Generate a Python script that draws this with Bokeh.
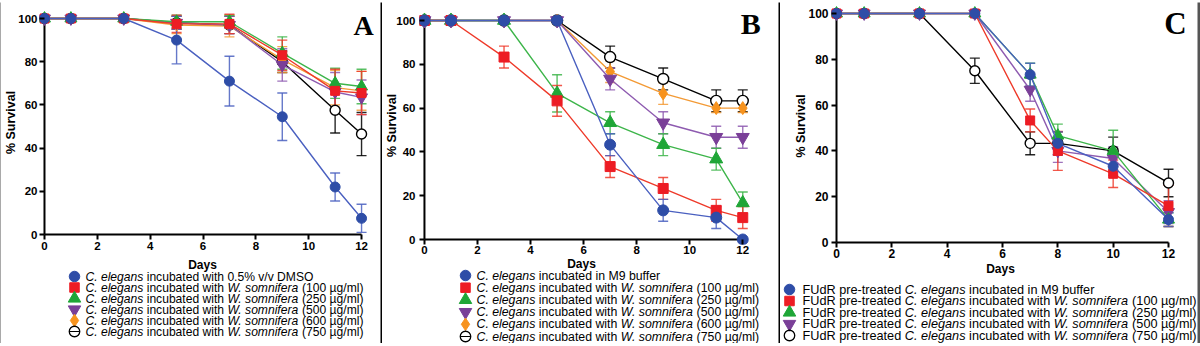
import math
from bokeh.plotting import figure
from bokeh.models import Range1d, FixedTicker, Label, Whisker, ColumnDataSource, TeeHead
from bokeh.layouts import row, column
from bokeh.embed import file_html
from bokeh.resources import INLINE
from bokeh.core.validation import silence
from bokeh.core.validation.warnings import MISSING_RENDERERS

silence(MISSING_RENDERERS, True)

# ---------------- data ----------------
days_ab = [0, 1, 3, 5, 7, 9, 11, 12]
days_c = [0, 1, 3, 5, 7, 8, 10, 12]
x_ticks = [0, 2, 4, 6, 8, 10, 12]
y_ticks = [0, 20, 40, 60, 80, 100]

# Panel A
a_dmso = [100, 100, 100, 90, 71, 54.5, 22, 7.5]
a_dmso_err = [0, 0, 0, 11, 11.5, 11, 6.5, 6.5]
a_ws100 = [100, 100, 100, 97.5, 97.5, 83, 66.5, 65.5]
a_ws100_err = [0, 0, 0, 4, 4.5, 7, 10, 10]
a_ws250 = [100, 100, 100, 98.5, 98.5, 84, 70, 68.5]
a_ws250_err = [0, 0, 0, 3, 3, 7.5, 7, 8]
a_ws500 = [100, 100, 100, 98, 97, 78.5, 66, 63.5]
a_ws500_err = [0, 0, 0, 3, 4, 7.5, 9, 8]
a_ws600 = [100, 100, 100, 97, 96.5, 81, 68, 66.5]
a_ws600_err = [0, 0, 0, 4, 5, 6, 8, 9]
a_ws750 = [100, 100, 100, 98, 97, 80, 57.5, 46.5]
a_ws750_err = [0, 0, 0, 3, 4, 5, 10.5, 10]

# Panel B
b_m9 = [100, 100, 100, 100, 43.3, 13.3, 10, 0]
b_m9_err = [0, 0, 0, 0, 5, 5, 5, 0]
b_ws100 = [100, 100, 83.3, 63.3, 33.3, 23.3, 13.3, 10]
b_ws100_err = [0, 0, 5, 7, 5, 5, 5, 5]
b_ws250 = [100, 100, 100, 66.7, 53.3, 43.3, 36.7, 16.7]
b_ws250_err = [0, 0, 0, 8.5, 5, 5, 5, 5]
b_ws500 = [100, 100, 100, 100, 73.3, 53.3, 46.7, 46.7]
b_ws500_err = [0, 0, 0, 0, 5, 5, 5, 5]
b_ws600 = [100, 100, 100, 100, 76.7, 66.7, 60, 60]
b_ws600_err = [0, 0, 0, 0, 5, 5, 2, 2]
b_ws750 = [100, 100, 100, 100, 83.3, 73.3, 63.3, 63.3]
b_ws750_err = [0, 0, 0, 0, 5, 5, 5, 5]

# Panel C
c_m9 = [100, 100, 100, 100, 73.3, 43.3, 33.3, 10]
c_m9_err = [0, 0, 0, 0, 5, 5, 4, 3]
c_ws100 = [100, 100, 100, 100, 53.3, 40, 30, 16]
c_ws100_err = [0, 0, 0, 0, 5, 8.5, 6, 9]
c_ws250 = [100, 100, 100, 100, 73.3, 46.7, 40, 10]
c_ws250_err = [0, 0, 0, 0, 5, 5, 9, 3]
c_ws500 = [100, 100, 100, 100, 66.7, 40, 36.7, 13.3]
c_ws500_err = [0, 0, 0, 0, 5, 5, 5, 5]
c_ws750 = [100, 100, 100, 75, 43.3, 43.3, 40, 26]
c_ws750_err = [0, 0, 0, 5.5, 5, 5, 6, 6]

legend_a = [
    [("C. elegans", True), (" incubated with 0.5% v/v DMSO", False)],
    [("C. elegans", True), (" incubated with ", False), ("W. somnifera", True), (" (100 µg/ml)", False)],
    [("C. elegans", True), (" incubated with ", False), ("W. somnifera", True), (" (250 µg/ml)", False)],
    [("C. elegans", True), (" incubated with ", False), ("W. somnifera", True), (" (500 µg/ml)", False)],
    [("C. elegans", True), (" incubated with ", False), ("W. somnifera", True), (" (600 µg/ml)", False)],
    [("C. elegans", True), (" incubated with ", False), ("W. somnifera", True), (" (750 µg/ml)", False)],
]
legend_b = [[("C. elegans", True), (" incubated in M9 buffer", False)]] + legend_a[1:]
legend_c = [
    [("FUdR pre-treated ", False), ("C. elegans", True), (" incubated in M9 buffer", False)],
    [("FUdR pre-treated ", False), ("C. elegans", True), (" incubated with ", False), ("W. somnifera", True), (" (100 µg/ml)", False)],
    [("FUdR pre-treated ", False), ("C. elegans", True), (" incubated with ", False), ("W. somnifera", True), (" (250 µg/ml)", False)],
    [("FUdR pre-treated ", False), ("C. elegans", True), (" incubated with ", False), ("W. somnifera", True), (" (500 µg/ml)", False)],
    [("FUdR pre-treated ", False), ("C. elegans", True), (" incubated with ", False), ("W. somnifera", True), (" (750 µg/ml)", False)],
]

# ---------------- styles ----------------
STY = {
    "blue":   dict(color="#2E4DA7", line="#4A60C0", marker="circle", fill="#2E4DA7"),
    "red":    dict(color="#ED1C24", line="#EE3A2A", marker="square", fill="#ED1C24"),
    "green":  dict(color="#1FA637", line="#3DB54A", marker="triangle", fill="#1FA637"),
    "purple": dict(color="#7A3F98", line="#8E5BB0", marker="inverted_triangle", fill="#7A3F98"),
    "orange": dict(color="#F7931E", line="#F39A35", marker="diamond", fill="#F7931E"),
    "black":  dict(color="#000000", line="#000000", marker="circle", fill="#FFFFFF"),
}

CW = {' ': 278, '.': 278, '%': 889, '/': 278, '(': 333, ')': 333, '-': 333,
      'C': 722, 'D': 722, 'M': 833, 'S': 667, 'O': 778, 'W': 944, 'F': 611, 'U': 722, 'R': 722,
      'a': 556, 'b': 556, 'c': 500, 'd': 556, 'e': 556, 'f': 278, 'g': 556, 'h': 556, 'i': 222,
      'l': 222, 'm': 833, 'n': 556, 'o': 556, 'p': 556, 'r': 333, 's': 500, 't': 278, 'u': 556,
      'v': 500, 'w': 722, 'y': 500, 'µ': 556}


def tw(s, size):
    return sum(CW.get(ch, 556) for ch in s) * size / 1000.0


def msize(key, base):
    m = STY[key]["marker"]
    if m in ("triangle", "inverted_triangle", "diamond"):
        return base + 2
    if m == "square":
        return base - 1
    return base


def no_align(f):
    if "frame_align" in f.properties():
        f.frame_align = False


def make_panel(g, series, days, legend, order, letter):
    x0, x12, y100, y0 = g["x0"], g["x12"], g["y100"], g["y0"]
    top_h = g["split"] - g["top"]
    bot_h = g["h"] - top_h

    def cx(X):
        return (X - x0) / (x12 - x0) * 12.0

    def cy(Y):
        return (y0 - Y) / (y0 - y100) * 100.0

    p = figure(width=g["w"], height=top_h, toolbar_location=None, output_backend="svg",
               x_range=Range1d(cx(g["fl"]), cx(g["fr"])),
               y_range=Range1d(cy(g["fb"]), cy(g["ft"])),
               min_border_left=g["fl"] - g["left"], min_border_right=g["left"] + g["w"] - g["fr"],
               min_border_top=g["ft"] - g["top"], min_border_bottom=g["split"] - g["fb"],
               background_fill_color="white", border_fill_color="white", outline_line_color=None)
    no_align(p)
    p.grid.visible = False
    for ax, ticks in ((p.xaxis[0], x_ticks), (p.yaxis[0], y_ticks)):
        ax.ticker = FixedTicker(ticks=ticks)
        ax.minor_tick_line_color = None
        ax.axis_line_color = None
        ax.major_tick_in = 5
        ax.major_tick_out = 0
        ax.major_tick_line_width = 2
        ax.major_tick_line_color = "black"
        ax.major_label_text_font = "Liberation Sans"
        ax.major_label_text_font_style = "bold"
        ax.major_label_text_font_size = g["tick_fs"]
        ax.major_label_text_color = "black"
    p.xaxis.major_label_standoff = g["xso"]
    p.yaxis.major_label_standoff = g["yso"]
    p.yaxis.axis_label = "% Survival"
    p.yaxis.axis_label_text_font = "Liberation Sans"
    p.yaxis.axis_label_text_font_style = "bold"
    p.yaxis.axis_label_text_font_size = "12.5px"
    p.yaxis.axis_label_text_color = "black"
    p.yaxis.axis_label_standoff = g["yls"]

    # axis lines crossing at the origin
    p.segment(x0=[x_ticks[0]], y0=[y_ticks[0]], x1=[x_ticks[-1]], y1=[y_ticks[0]], line_color="black", line_width=2)
    p.segment(x0=[x_ticks[0]], y0=[y_ticks[0]], x1=[x_ticks[0]], y1=[y_ticks[-1]], line_color="black", line_width=2)

    for key, vals, errs in series:
        s = STY[key]
        ex = [d for d, e in zip(days, errs) if e > 0]
        ev = [v for v, e in zip(vals, errs) if e > 0]
        ee = [e for e in errs if e > 0]
        if ex:
            src = ColumnDataSource(dict(x=ex, upper=[v + e for v, e in zip(ev, ee)],
                                        lower=[v - e for v, e in zip(ev, ee)]))
            w = Whisker(source=src, base="x", upper="upper", lower="lower", line_color=s["line"],
                        line_width=1.4, line_alpha=0.85, level="underlay",
                        upper_head=TeeHead(size=10, line_color=s["line"], line_width=1.4, line_alpha=0.85),
                        lower_head=TeeHead(size=10, line_color=s["line"], line_width=1.4, line_alpha=0.85))
            p.add_layout(w)
        p.line(days, vals, line_color=s["line"], line_width=1.4)
        p.scatter(days, vals, marker=s["marker"], size=msize(key, g["msize"]), fill_color=s["fill"],
                  line_color=s["color"], line_width=1.4 if key == "black" else 1)

    p.add_layout(Label(x=cx(g["letter"][0]), y=cy(g["letter"][1]), text=letter, text_font="Liberation Serif",
                       text_font_style="bold", text_font_size=f"{g['letter_fs']}px", text_color="black",
                       text_align="center", text_baseline="middle"))

    # ---- lower figure: axis title + legend (pixel coordinates, y downwards) ----
    q = figure(width=g["w"], height=bot_h, toolbar_location=None, output_backend="svg",
               x_range=Range1d(g["left"], g["left"] + g["w"]),
               y_range=Range1d(g["split"] + bot_h, g["split"]),
               min_border=0, background_fill_color="white", border_fill_color="white",
               outline_line_color=None)
    no_align(q)
    q.xaxis.visible = False
    q.yaxis.visible = False
    q.grid.visible = False

    def lab(X, Y, text, size, style="normal", align="left"):
        q.add_layout(Label(x=X, y=Y, text=text, text_font="Liberation Sans", text_font_size=f"{size}px",
                           text_font_style=style, text_color="black", text_align=align,
                           text_baseline="middle"))

    lab(g["xlab"][0], g["xlab"][1], "Days", 12, style="bold", align="center")

    fs = g["leg_fs"]
    for i, (segs, key) in enumerate(zip(legend, order)):
        Y = g["leg_y0"] + i * g["leg_dy"]
        s = STY[key]
        if key == "black" and not g.get("open_plain"):
            q.segment(x0=[g["leg_mx"] - 5.5], y0=[Y], x1=[g["leg_mx"] + 5.5], y1=[Y], line_color="black", line_width=1.2)
        q.scatter([g["leg_mx"]], [Y], marker=s["marker"], size=msize(key, 10.5), fill_color=None if key == "black" else s["fill"],
                  line_color=s["color"], line_width=1.3 if key == "black" else 1)
        X = g["leg_tx"]
        for text, ital in segs:
            lead = len(text) - len(text.lstrip(" "))
            core = text.strip(" ")
            if core:
                lab(X + lead * 278 * fs / 1000.0, Y, core, fs, style="italic" if ital else "normal")
            X += tw(text, fs)
    return column(p, q)


series_a = [("black", a_ws750, a_ws750_err), ("orange", a_ws600, a_ws600_err), ("purple", a_ws500, a_ws500_err),
            ("green", a_ws250, a_ws250_err), ("red", a_ws100, a_ws100_err), ("blue", a_dmso, a_dmso_err)]
series_b = [("black", b_ws750, b_ws750_err), ("orange", b_ws600, b_ws600_err), ("purple", b_ws500, b_ws500_err),
            ("green", b_ws250, b_ws250_err), ("red", b_ws100, b_ws100_err), ("blue", b_m9, b_m9_err)]
series_c = [("black", c_ws750, c_ws750_err), ("purple", c_ws500, c_ws500_err),
            ("green", c_ws250, c_ws250_err), ("red", c_ws100, c_ws100_err), ("blue", c_m9, c_m9_err)]

order_ab = ["blue", "red", "green", "purple", "orange", "black"]
order_c = ["blue", "red", "green", "purple", "black"]

gA = dict(left=1, top=2, w=379, h=341, split=256, fl=38, fr=377, ft=5, fb=239, x0=43, x12=361, y100=18, y0=234,
          tick_fs="11.5px", xso=2, yso=2, yls=-3, msize=10, xlab=(202, 264),
          letter=(363, 25), letter_fs=28, leg_y0=276, leg_dy=11, leg_mx=74, leg_tx=85, leg_fs=12.1)
gB = dict(left=382, top=2, w=396, h=341, split=258, fl=416, fr=772, ft=6, fb=244, x0=421, x12=742, y100=20, y0=239,
          tick_fs="11.5px", xso=1, yso=4, yls=-6, msize=11, xlab=(581, 263.5),
          letter=(750, 23), letter_fs=30, leg_y0=275, leg_dy=12.2, leg_mx=465, leg_tx=476, leg_fs=12.3)
gC = dict(left=780, top=2, w=417, h=341, split=262, fl=831, fr=1193, ft=4, fb=247, x0=836, x12=1168, y100=13, y0=242,
          tick_fs="12px", xso=1, yso=3, yls=-3, msize=10, xlab=(1000, 268),
          letter=(1175, 23), letter_fs=31, leg_y0=289, leg_dy=11.5, leg_mx=789, leg_tx=802, leg_fs=12.7,
          open_plain=True)

pA = make_panel(gA, series_a, days_ab, legend_a, order_ab, "A")
pB = make_panel(gB, series_b, days_ab, legend_b, order_ab, "B")
pC = make_panel(gC, series_c, days_c, legend_c, order_c, "C")


def strip(w, h, color):
    f = figure(width=w, height=h, toolbar_location=None, output_backend="svg", min_border=0,
               background_fill_color=color, border_fill_color=color, outline_line_color=None)
    no_align(f)
    f.xaxis.visible = False
    f.yaxis.visible = False
    f.grid.visible = False
    return f


layout = column(
    strip(1200, 2, "#444444"),
    row(strip(1, 341, "#555555"), pA, strip(2, 341, "#000000"), pB, strip(2, 341, "#000000"), pC,
        strip(3, 341, "#555555")),
    strip(1200, 3, "#555555"),
)

open("out.html", "w").write(file_html(layout, INLINE))
